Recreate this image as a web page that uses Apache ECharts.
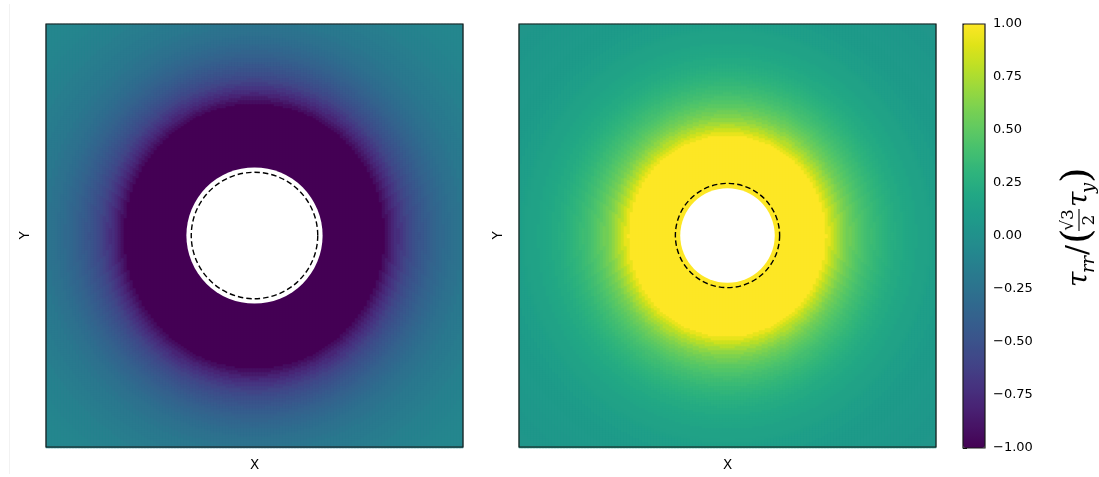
<!DOCTYPE html>
<html>
<head>
<meta charset="utf-8">
<script src="https://cdn.jsdelivr.net/npm/echarts@6/dist/echarts.min.js"></script>
<style>html,body{margin:0;padding:0;background:#fff;}#chart{width:1099px;height:477px;}</style>
</head>
<body>
<div id="chart"></div>
<script>
// ---- data ----
// radial sample positions (axis units, panel spans -3..3)
const RADII = [0.9,0.95,1.0,1.05,1.1,1.15,1.2,1.25,1.3,1.35,1.4,1.45,1.5,1.55,1.6,1.65,1.7,1.75,1.8,1.85,1.9,
  1.95,2.0,2.05,2.1,2.15,2.2,2.25,2.3,2.35,2.4,2.45,2.5,2.55,2.6,2.65,2.7,2.75,2.8,2.85,2.9,2.95,3.0,
  3.1,3.2,3.3,3.4,3.5,3.6,3.7,3.8,3.9,4.0,4.1,4.2,4.3];
// left panel radial profile of tau_rr / (sqrt3/2 tau_y)
const LEFT_PROFILE = [-1,-1,-1,-1,-1,-1,-1,-1,-1,-1,-1,-1,-1,-1,-1,-1,-1,-1,-1,-1,-0.93,
  -0.86,-0.80,-0.74,-0.69,-0.64,-0.595,-0.555,-0.52,-0.49,-0.46,-0.43,-0.405,-0.385,-0.36,-0.34,-0.32,-0.30,-0.28,-0.27,-0.25,-0.24,-0.225,
  -0.20,-0.18,-0.165,-0.15,-0.135,-0.123,-0.113,-0.103,-0.095,-0.087,-0.08,-0.074,-0.069];
// right panel radial profile
const RIGHT_PROFILE = [1,1,1,1,1,1,1,1,1,1,1,0.93,0.85,
  0.78,0.72,0.66,0.61,0.565,0.525,0.49,0.455,0.425,0.40,0.375,0.35,0.33,0.31,0.29,0.272,0.256,0.24,0.226,0.213,0.203,0.192,0.181,0.171,0.162,0.154,0.146,0.138,0.131,0.125,
  0.113,0.103,0.094,0.086,0.079,0.072,0.067,0.062,0.057,0.053,0.049,0.046,0.042];
const HOLE_R = [0.98, 0.68];      // white hole radius, left / right
const DASH_R = [0.91, 0.75];      // dashed circle radius, left / right
const CB_TICKS = [-1, -0.75, -0.5, -0.25, 0, 0.25, 0.5, 0.75, 1];
const X_NAME = 'X', Y_NAME = 'Y';
const VIRIDIS = ['#440154','#471365','#482475','#463480','#414487','#3b528b','#355f8d','#2f6c8e','#2a788e','#25848e',
  '#21918c','#1e9c89','#22a884','#2fb47c','#44bf70','#5ec962','#7ad151','#9bd93c','#bddf26','#dfe318','#fde725'];

// ---- build heatmap tables ----
const NX = 139, NY = 212, EXT = 3;
const catsX = Array.from({length: NX}, (_, i) => i);
const catsY = Array.from({length: NY}, (_, i) => i);
function nearestIdx(r) {
  let best = 0, bd = Infinity;
  for (let k = 0; k < RADII.length; k++) { const d = Math.abs(RADII[k] - r); if (d < bd) { bd = d; best = k; } }
  return best;
}
function field(profile, hole) {
  const out = [];
  for (let i = 0; i < NX; i++) for (let j = 0; j < NY; j++) {
    const x = -EXT + (i + 0.5) * 2 * EXT / NX, y = -EXT + (j + 0.5) * 2 * EXT / NY;
    const r = Math.hypot(x, y);
    if (r < hole - 0.06) continue;
    out.push([i, j, profile[nearestIdx(r)]]);
  }
  return out;
}

const chart = echarts.init(document.getElementById('chart'), null, {renderer: 'canvas'});
const PANEL = {top: 24, height: 424, width: 417};
const LEFTS = [46, 519];
const font = "'DejaVu Sans', sans-serif";

const grids = [], xAxes = [], yAxes = [], series = [];
LEFTS.forEach((l, p) => {
  grids.push({left: l, top: PANEL.top, width: PANEL.width, height: PANEL.height, containLabel: false});
  xAxes.push({type: 'category', data: catsX, gridIndex: 2 * p, show: false});
  yAxes.push({type: 'category', data: catsY, gridIndex: 2 * p, show: false});
  grids.push({left: l, top: PANEL.top, width: PANEL.width, height: PANEL.height, show: true, z: 10,
    borderColor: '#1a1a1a', borderWidth: 1.2, backgroundColor: 'transparent'});
  xAxes.push({type: 'value', gridIndex: 2 * p + 1, min: -EXT, max: EXT, name: X_NAME, nameLocation: 'middle', nameGap: 11,
    nameTextStyle: {fontFamily: font, fontSize: 13.5, color: '#000'},
    axisLine: {show: false}, axisTick: {show: false}, axisLabel: {show: false}, splitLine: {show: false}});
  yAxes.push({type: 'value', gridIndex: 2 * p + 1, min: -EXT, max: EXT, name: Y_NAME, nameLocation: 'middle', nameGap: 14,
    nameTextStyle: {fontFamily: font, fontSize: 13.5, color: '#000'},
    axisLine: {show: false}, axisTick: {show: false}, axisLabel: {show: false}, splitLine: {show: false}});
});
grids.push({left: 963, top: PANEL.top, width: 22, height: PANEL.height, show: true, z: 10,
  borderColor: '#1a1a1a', borderWidth: 1.2, backgroundColor: 'transparent'});
xAxes.push({type: 'value', gridIndex: 4, show: false, min: 0, max: 1});
yAxes.push({type: 'value', gridIndex: 4, position: 'right', min: -1, max: 1, interval: 0.25,
  axisLine: {show: false}, splitLine: {show: false},
  axisTick: {show: true, length: 4, lineStyle: {color: '#000', width: 1}},
  axisLabel: {margin: 8, fontFamily: font, fontSize: 13, color: '#000',
    formatter: v => (CB_TICKS.indexOf(v) >= 0 ? v.toFixed(2).replace('-', '\u2212') : '')}});

const fields = [field(LEFT_PROFILE, HOLE_R[0]), field(RIGHT_PROFILE, HOLE_R[1])];
fields.forEach((d, p) => {
  series.push({type: 'heatmap', xAxisIndex: 2 * p, yAxisIndex: 2 * p, data: d, progressive: 0,
    itemStyle: {borderWidth: 0}, emphasis: {disabled: true}, silent: true, animation: false});
});
function circleSeries(p, r, style) {
  return {type: 'custom', xAxisIndex: 2 * p + 1, yAxisIndex: 2 * p + 1, data: [[0, 0, r]], z: 5, silent: true, animation: false,
    renderItem: (params, api) => {
      const c = api.coord([api.value(0), api.value(1)]);
      const s = api.size([api.value(2), api.value(2)]);
      return {type: 'circle', shape: {cx: c[0], cy: c[1], r: s[0]}, style: style};
    }};
}
[0, 1].forEach(p => {
  series.push(circleSeries(p, HOLE_R[p], {fill: '#fff', stroke: null}));
  series.push(circleSeries(p, DASH_R[p], {fill: 'none', stroke: '#000', lineWidth: 1.4, lineDash: [5.5, 3]}));
});
series.push({type: 'scatter', xAxisIndex: 4, yAxisIndex: 4, data: [], silent: true});

const serif = "'DejaVu Serif', 'Liberation Serif', serif";
function t(text, x, y, size, italic, align) {
  return {type: 'text', x: x, y: y, silent: true,
    style: {text: text, font: (italic ? 'italic ' : '') + size + 'px ' + serif, fill: '#000',
      textAlign: align || 'left', align: align || 'left', textVerticalAlign: 'middle', verticalAlign: 'middle'}};
}

chart.setOption({
  animation: false,
  backgroundColor: '#fff',
  grid: grids, xAxis: xAxes, yAxis: yAxes, series: series,
  visualMap: {type: 'continuous', min: -1, max: 1, seriesIndex: [0, 1], dimension: 2, calculable: false,
    left: 963, top: PANEL.top, itemWidth: 22, itemHeight: PANEL.height, padding: 0, text: null, showLabel: false,
    hoverLink: false, inRange: {color: VIRIDIS}},
  graphic: [
    {type: 'line', silent: true, shape: {x1: 9.5, y1: 4, x2: 9.5, y2: 474}, style: {stroke: '#f2f2f2', lineWidth: 1}},
    {type: 'group', x: 1080, y: 215, rotation: Math.PI / 2, children: [
      t('\u03c4', -72, 0, 28, true),
      t('rr', -58, 9, 18, true),
      t('/', -40, -1, 30, false),
      t('(', -29, -1, 40, false),
      t('\u221a3', -5, -11, 17, false, 'center'),
      {type: 'line', silent: true, shape: {x1: -16, y1: -1, x2: 6, y2: -1}, style: {stroke: '#000', lineWidth: 1.1}},
      t('2', -5, 10, 17, false, 'center'),
      t('\u03c4', 8, 0, 28, true),
      t('y', 22, 9, 18, true),
      t(')', 32, -1, 40, false)
    ]}
  ]
});
</script>
</body>
</html>
